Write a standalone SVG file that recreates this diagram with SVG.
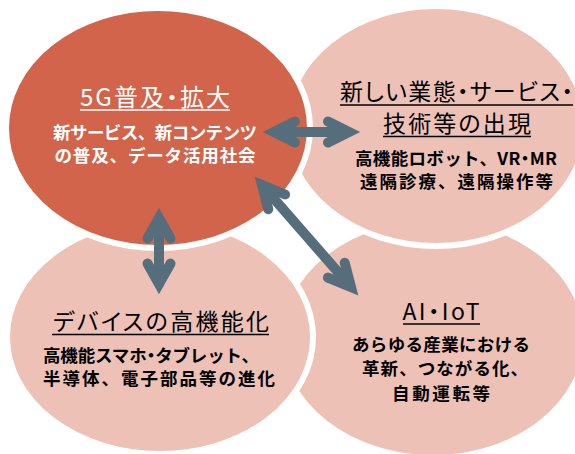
<svg xmlns="http://www.w3.org/2000/svg" width="575" height="454" viewBox="0 0 575 454">
<style>
.bub{stroke:#ffffff;stroke-width:6}
.pink{fill:#EDC1B6}
.main{fill:#D1644A}
.t{font-family:"Noto Sans CJK JP","Noto Sans",sans-serif;text-anchor:middle}
.ttl{font-size:23px;font-weight:400;font-feature-settings:"palt"}
.sub{font-size:17.5px;font-weight:700}
.p{font-feature-settings:"palt"}
.w{fill:#ffffff}
.k{fill:#000000}
.ul{stroke-width:1.6}
.arw{fill:none;stroke:#566E7B;stroke-width:10}
.shaft{stroke-linecap:butt}
.head{stroke-linecap:round;stroke-linejoin:miter;stroke-miterlimit:6}
</style>
<g id="node-aiiot">
<ellipse class="bub pink" cx="433" cy="338" rx="153" ry="120"/>
<text class="t ttl k" x="441" y="320" textLength="77" lengthAdjust="spacing">AI・IoT</text>
<line class="ul" stroke="#000" x1="403" y1="324" x2="480" y2="324"/>
<text class="t sub k" x="441" y="351" textLength="178" lengthAdjust="spacing">あらゆる産業における</text>
<text class="t sub k" x="445" y="375" textLength="166" lengthAdjust="spacing">革新、つながる化、</text>
<text class="t sub k" x="441" y="400" textLength="98" lengthAdjust="spacing">自動運転等</text>
</g>
<g id="node-device">
<ellipse class="bub pink" cx="160" cy="337" rx="153" ry="117"/>
<text class="t ttl k" x="161" y="330" textLength="216" lengthAdjust="spacing">デバイスの高機能化</text>
<line class="ul" stroke="#000" x1="52" y1="334.5" x2="269" y2="334.5"/>
<text class="t sub k" x="43" y="362" style="text-anchor:start" textLength="216" lengthAdjust="spacing">高機能スマホ<tspan class="p">・</tspan>タブレット、</text>
<text class="t sub k" x="43" y="385" style="text-anchor:start" textLength="232" lengthAdjust="spacing">半導体、電子部品等の進化</text>
</g>
<g id="node-newbiz">
<ellipse class="bub pink" cx="436" cy="126" rx="150" ry="120"/>
<text class="t ttl k" x="456.5" y="100" textLength="233" lengthAdjust="spacing">新しい業態・サービス・</text>
<line class="ul" stroke="#000" x1="340" y1="105" x2="573" y2="105"/>
<text class="t ttl k" x="457" y="131.5" textLength="148" lengthAdjust="spacing">技術等の出現</text>
<line class="ul" stroke="#000" x1="383" y1="136.5" x2="531" y2="136.5"/>
<text class="t sub k" x="456" y="164.5" textLength="202" lengthAdjust="spacing">高機能ロボット、VR<tspan class="p">・</tspan>MR</text>
<text class="t sub k" x="456.5" y="187.5" textLength="193" lengthAdjust="spacing">遠隔診療、遠隔操作等</text>
</g>
<g id="node-5g">
<ellipse class="bub main" cx="158" cy="128" rx="152" ry="120"/>
<text class="t ttl w" x="155" y="106" style="font-size:24px" textLength="150" lengthAdjust="spacing">5G普及・拡大</text>
<line class="ul" stroke="#fff" x1="80" y1="110" x2="230" y2="110"/>
<text class="t sub w" x="155" y="139" textLength="204" lengthAdjust="spacing">新サービス、新コンテンツ</text>
<text class="t sub w" x="155" y="162" textLength="201" lengthAdjust="spacing">の普及、データ活用社会</text>
</g>
<g id="connectors">
<g id="arrow-5g-newbiz">
<path class="arw shaft" d="M274,132 L349,132"/>
<path class="arw head" d="M295,121.5 L274,132 L295,142.5"/>
<path class="arw head" d="M328,121.5 L349,132 L328,142.5"/>
</g>
<g id="arrow-5g-device">
<path class="arw shaft" d="M159,218 L159,284"/>
<path class="arw head" d="M147.5,238.5 L159,218 L170.5,238.5"/>
<path class="arw head" d="M147.5,263.5 L159,284 L170.5,263.5"/>
</g>
<g id="arrow-5g-aiiot">
<path class="arw shaft" d="M262,185 L351,287"/>
<path class="arw head" d="M268.3,209.2 L262,185 L285.1,194.5"/>
<path class="arw head" d="M344.7,262.8 L351,287 L327.9,277.6"/>
</g>
</g>
</svg>
